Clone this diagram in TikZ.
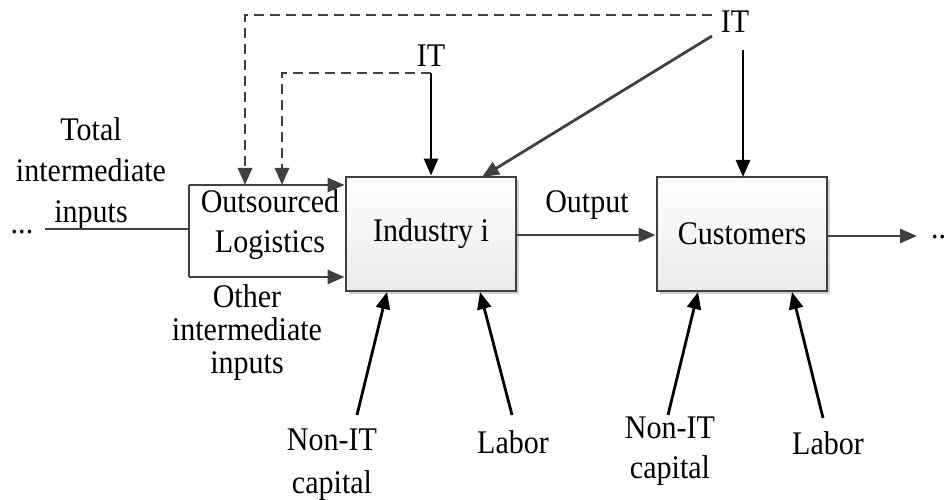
\documentclass[tikz,border=0pt]{standalone}
\usepackage{fontspec}
\setmainfont{Liberation Serif}[FakeStretch=0.91]
\usetikzlibrary{arrows.meta,shadows}
\definecolor{dgray}{HTML}{404040}
\tikzset{
  lbl/.style={inner sep=0pt, font=\fontsize{33}{40}\selectfont, align=center},
  boxnode/.style={draw=dgray, line width=2.8pt, minimum width=170pt, minimum height=114pt,
     top color=white, bottom color=black!8, inner sep=0pt,
     drop shadow={shadow xshift=3pt, shadow yshift=-3pt, fill=black!18, opacity=1},
     font=\fontsize{33}{36}\selectfont},
  conn/.style={line width=2.8pt, dgray, -{Triangle[length=17pt,width=14pt]}},
  connk/.style={line width=2.8pt, black, -{Triangle[length=17pt,width=14pt]}},
  plain/.style={line width=2.8pt, dgray},
  dashconn/.style={line width=2.8pt, dgray, dash pattern=on 10pt off 6pt, -{Triangle[length=17pt,width=14pt]}},
}
\begin{document}
\begin{tikzpicture}[x=1pt,y=-1pt]
\useasboundingbox (0,0) rectangle (948,500);
% boxes
\node[boxnode] (ind) at (431,234) {Industry i};
\node[boxnode] (cus) at (742,234) {Customers};
% labels
\node[lbl, font=\fontsize{33}{41}\selectfont] (total) at (91,174) {Total\\intermediate\\inputs};
\node[lbl, anchor=base] (dotsL) at (22,233) {...};
\node[lbl, anchor=base west] (dotsR) at (931,238) {..};
\node[lbl] (outs) at (270,225) {Outsourced\\Logistics};
\node[lbl, font=\fontsize{33}{33}\selectfont] (other) at (247,333) {Other\\intermediate\\inputs};
\node[lbl, anchor=base] (output) at (587,212) {Output};
\node[lbl, anchor=base] (itin) at (431,67) {IT};
\node[lbl, anchor=base] (itout) at (735,33) {IT};
\node[lbl, font=\fontsize{33}{43}\selectfont] (nit1) at (332,465) {Non-IT\\capital};
\node[lbl, anchor=base] (lab1) at (513,453) {Labor};
\node[lbl, font=\fontsize{33}{40}\selectfont] (nit2) at (670,451) {Non-IT\\capital};
\node[lbl, anchor=base] (lab2) at (828,454) {Labor};
% coordinates
\coordinate (olTL) at (189,185);
\coordinate (olBL) at (189,277);
\coordinate (inStart) at (45,229);
\coordinate (inEnd) at (189,229);
\coordinate (dOut1) at (712,15);
\coordinate (dOut2) at (245,15);
\coordinate (dOut3) at (245,185);
\coordinate (dIn1) at (431,73);
\coordinate (dIn2) at (282,73);
\coordinate (dIn3) at (282,185);
\coordinate (diagS) at (712,36);
\coordinate (diagE) at (482,177);
\coordinate (itR) at (743,50);
\coordinate (itRE) at (743,177);
\coordinate (n1s) at (357,415);
\coordinate (n1e) at (387,292);
\coordinate (l1s) at (512,415);
\coordinate (l1e) at (480,292);
\coordinate (n2s) at (668,415);
\coordinate (n2e) at (698,292);
\coordinate (l2s) at (823,418);
\coordinate (l2e) at (792,292);
\coordinate (rEnd) at (917,236);
% outsourced box
\draw[plain] (olTL) -- (olBL);
\draw[conn] (olTL) -- (olTL -| ind.west);
\draw[conn] (olBL) -- (olBL -| ind.west);
\draw[plain] (inStart) -- (inEnd);
% dashed
\draw[dashconn] (dOut1) -- (dOut2) -- (dOut3);
\draw[dashconn] (dIn1) -- (dIn2) -- (dIn3);
% IT arrows
\draw[connk] (dIn1) -- (dIn1 |- ind.north);
\draw[conn] (diagS) -- (diagE);
\draw[connk] (itR) -- (itRE);
% output
\draw[conn] (ind.east |- 0,235) -- (cus.west |- 0,235);
\draw[conn] (cus.east |- rEnd) -- (rEnd);
% bottom
\draw[connk] (n1s) -- (n1e);
\draw[connk] (l1s) -- (l1e);
\draw[connk] (n2s) -- (n2e);
\draw[connk] (l2s) -- (l2e);
\end{tikzpicture}
\end{document}
